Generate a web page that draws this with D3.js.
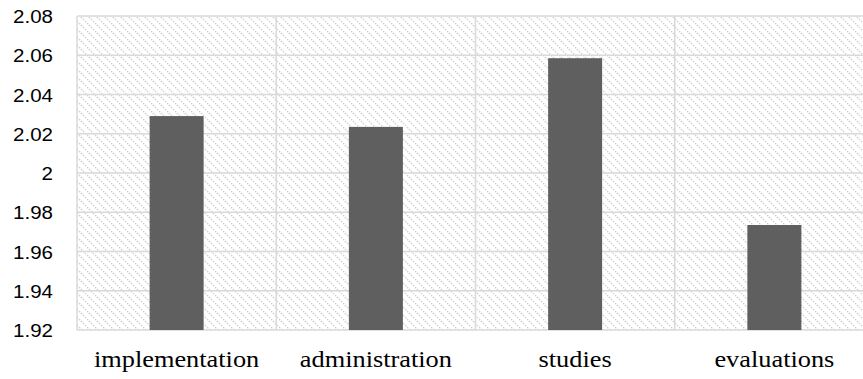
<!DOCTYPE html>
<html>
<head>
<meta charset="utf-8">
<script src="https://cdn.jsdelivr.net/npm/d3@7/dist/d3.min.js"></script>
<style>
  html, body { margin: 0; padding: 0; background: #fff; }
  svg { display: block; }
</style>
</head>
<body>
<svg id="chart" width="863" height="379"></svg>
<script>
// Mean scores by category
const categories = ["implementation", "administration", "studies", "evaluations"];
const values = [2.029, 2.0235, 2.0585, 1.9735];
const yTicks = [1.92, 1.94, 1.96, 1.98, 2, 2.02, 2.04, 2.06, 2.08];
const yTickLabels = ["1.92", "1.94", "1.96", "1.98", "2", "2.02", "2.04", "2.06", "2.08"];

const svg = d3.select("#chart");
const plot = { left: 77, right: 874, top: 16, bottom: 330 };

const x = d3.scaleBand().domain(categories).range([plot.left, plot.right]).padding(0);
const y = d3.scaleLinear().domain([1.92, 2.08]).range([plot.bottom, plot.top]);
const barFrac = 0.271;

// diagonal hatch used as the plot-area fill
const defs = svg.append("defs");
const pat = defs.append("pattern")
  .attr("id", "hatch")
  .attr("patternUnits", "userSpaceOnUse")
  .attr("width", 8).attr("height", 8);
pat.append("rect").attr("width", 8).attr("height", 8).attr("fill", "#fff");
pat.append("path")
  .attr("d", "M-1,-1 L9,9 M-1,7 L1,9 M7,-1 L9,1")
  .attr("stroke", "#d4d4d4")
  .attr("stroke-width", 1.5)
  .attr("stroke-dasharray", "1.6,1.2");

svg.append("rect")
  .attr("x", plot.left).attr("y", plot.top)
  .attr("width", plot.right - plot.left).attr("height", plot.bottom - plot.top)
  .attr("fill", "url(#hatch)");

// horizontal gridlines
svg.append("g")
  .selectAll("line")
  .data(yTicks)
  .join("line")
  .attr("x1", plot.left).attr("x2", plot.right)
  .attr("y1", d => y(d)).attr("y2", d => y(d))
  .attr("stroke", "#d9d9d9")
  .attr("stroke-width", 1.5);

// vertical gridlines at category boundaries
const bounds = categories.map(c => x(c)).concat([plot.right]);
svg.append("g")
  .selectAll("line")
  .data(bounds)
  .join("line")
  .attr("x1", d => d).attr("x2", d => d)
  .attr("y1", plot.top).attr("y2", plot.bottom)
  .attr("stroke", "#d9d9d9")
  .attr("stroke-width", 1.5);

// bars
svg.append("g")
  .selectAll("rect")
  .data(categories.map((c, i) => ({ c, v: values[i] })))
  .join("rect")
  .attr("x", d => x(d.c) + x.bandwidth() * (1 - barFrac) / 2)
  .attr("width", x.bandwidth() * barFrac)
  .attr("y", d => y(d.v))
  .attr("height", d => plot.bottom - y(d.v))
  .attr("fill", "#5f5f5f");

// y axis labels
const yAxis = d3.axisLeft(y)
  .tickValues(yTicks)
  .tickSize(0)
  .tickPadding(0)
  .tickFormat((d, i) => yTickLabels[i]);
const gy = svg.append("g").attr("transform", "translate(53,0)").call(yAxis);
gy.select(".domain").remove();
gy.selectAll("text")
  .attr("font-family", "'Liberation Sans', Arial, sans-serif")
  .attr("font-size", 19)
  .attr("fill", "#000")
  .attr("dy", "0.35em")
  .attr("x", 0);
gy.selectAll(".tick").each(function () {
  const tr = d3.select(this).attr("transform");
  d3.select(this).attr("transform", tr + " scale(1.08,1)");
});

// x axis labels
const xAxis = d3.axisBottom(x).tickSize(0).tickPadding(0);
const gx = svg.append("g").attr("transform", `translate(0,${plot.bottom})`).call(xAxis);
gx.select(".domain").remove();
gx.selectAll("text")
  .attr("font-family", "'Liberation Serif', 'Times New Roman', serif")
  .attr("font-size", 23)
  .attr("fill", "#000")
  .attr("y", 37)
  .attr("dy", 0);
gx.selectAll(".tick").each(function () {
  const tr = d3.select(this).attr("transform");
  d3.select(this).attr("transform", tr + " scale(1.145,1)");
});
</script>
</body>
</html>
